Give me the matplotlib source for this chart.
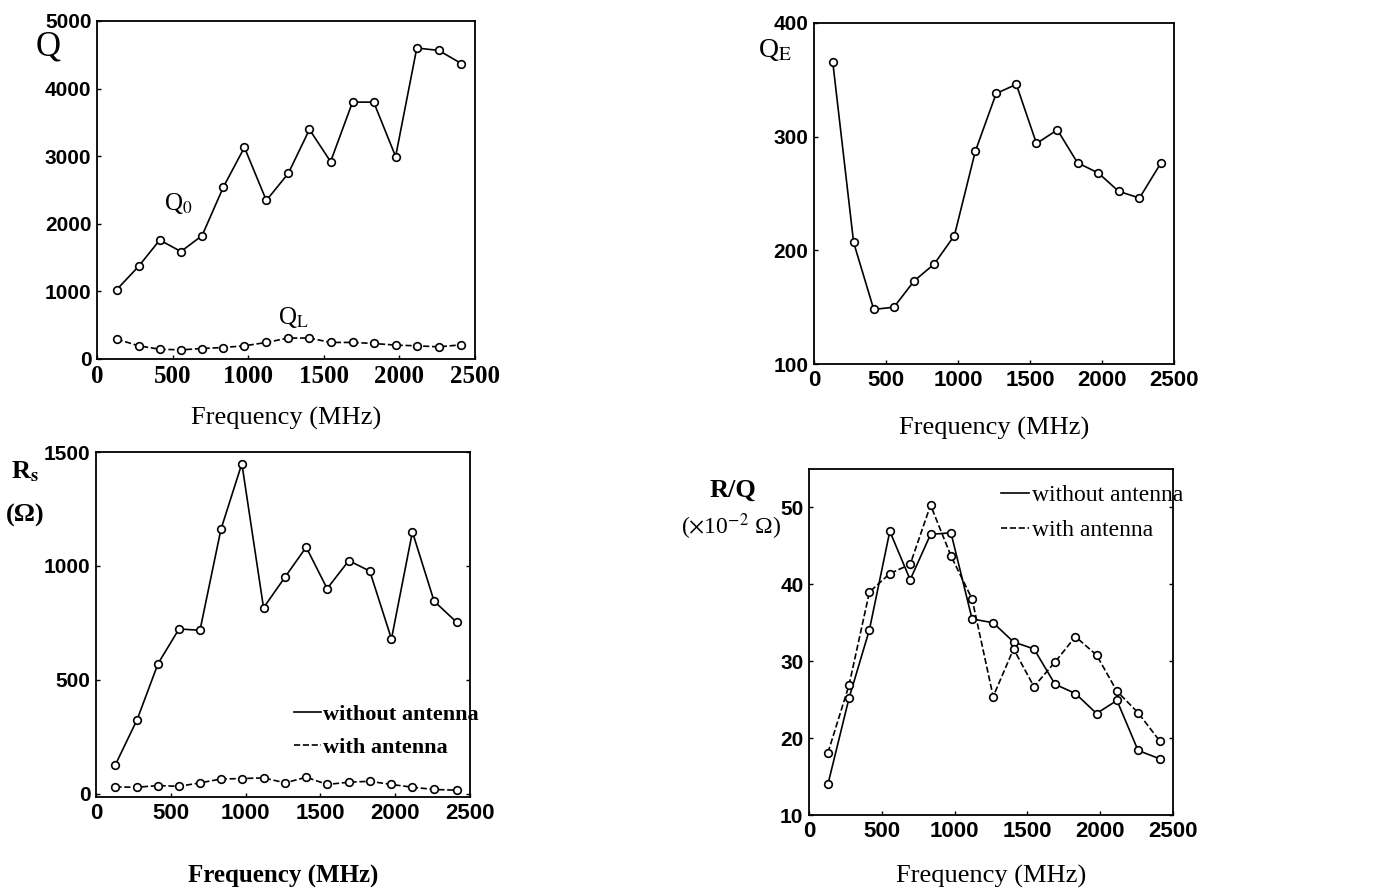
import matplotlib.pyplot as plt

# frequency points (MHz), same set used in all four panels
freq = [130, 275, 415, 555, 695, 835, 975, 1120, 1265, 1405, 1545, 1690, 1830, 1975, 2115, 2260, 2410]
freq_ticks = [0, 500, 1000, 1500, 2000, 2500]

# top left: unloaded and loaded Q
q0 = [1025, 1370, 1760, 1590, 1825, 2540, 3130, 2345, 2745, 3395, 2920, 3800, 3800, 2995, 4600, 4565, 4370]
qL = [295, 195, 145, 135, 155, 170, 195, 245, 310, 310, 245, 245, 230, 205, 195, 180, 210]
q_ticks = [0, 1000, 2000, 3000, 4000, 5000]

# top right: external Q
qE = [366, 207, 148, 150, 173, 188, 213, 287, 338, 346, 294, 306, 277, 268, 252, 246, 277]
qE_ticks = [100, 200, 300, 400]

# bottom left: shunt resistance
rs_without = [127, 325, 571, 723, 717, 1160, 1449, 816, 952, 1082, 900, 1023, 977, 679, 1149, 845, 753]
rs_with = [29, 28, 35, 32, 47, 64, 66, 69, 47, 72, 40, 50, 54, 40, 28, 18, 15]
rs_ticks = [0, 500, 1000, 1500]

# bottom right: R/Q
rq_without = [14.0, 25.2, 34.1, 46.9, 40.6, 46.5, 46.7, 35.5, 35.0, 32.5, 31.6, 27.0, 25.8, 23.2, 24.9, 18.4, 17.3]
rq_with = [18.1, 26.9, 39.0, 41.4, 42.6, 50.3, 43.7, 38.1, 25.4, 31.6, 26.7, 29.9, 33.2, 30.8, 26.1, 23.3, 19.6]
rq_ticks = [10, 20, 30, 40, 50]

legend_labels = ['without antenna', 'with antenna']

plt.rcParams['mathtext.fontset'] = 'stix'
serif = 'Liberation Serif'
sans = 'Liberation Sans'

fig = plt.figure(figsize=(13.75, 8.96), dpi=100)
W, H = 1375.0, 896.0


def make_axes(left, top, right, bottom):
    # pixel box -> figure fractions
    return fig.add_axes([left / W, 1 - bottom / H, (right - left) / W, (bottom - top) / H])


def style(ax, labelpad, xlabel_bold=False, xtick_family=sans, xtick_size=16):
    for s in ax.spines.values():
        s.set_linewidth(1.3)
    ax.set_xlim(0, 2500)
    ax.set_xticks(freq_ticks)
    ax.tick_params(direction='in', length=3, width=1, pad=4)
    for lab in ax.get_xticklabels():
        lab.set_fontfamily(xtick_family)
        lab.set_fontweight('bold')
        lab.set_fontsize(xtick_size)
    for lab in ax.get_yticklabels():
        lab.set_fontfamily(sans)
        lab.set_fontweight('bold')
        lab.set_fontsize(15)
    ax.set_xlabel('Frequency (MHz)', family=serif,
                  fontsize=18 if xlabel_bold else 19,
                  fontweight='bold' if xlabel_bold else 'normal', labelpad=labelpad)


mk = dict(marker='o', ms=5.5, mfc='white', mec='black', mew=1.2, color='black', lw=1.2)

# ---- panel 1
ax1 = make_axes(97, 21, 475, 359)
ax1.plot(freq, q0, '-', **mk)
ax1.plot(freq, qL, '--', **mk)
ax1.set_ylim(0, 5000)
ax1.set_yticks(q_ticks)
style(ax1, 14, xtick_family=serif, xtick_size=18)
ax1.text(540, 2300, r'Q$_{\rm 0}$', family=serif, fontsize=18, ha='center', va='center')
ax1.text(1300, 610, r'Q$_{\rm L}$', family=serif, fontsize=18, ha='center', va='center')
fig.text(48 / W, 1 - 47 / H, 'Q', family=serif, fontsize=25, ha='center', va='center')

# ---- panel 2
ax2 = make_axes(814, 23, 1174, 364)
ax2.plot(freq, qE, '-', **mk)
ax2.set_ylim(100, 400)
ax2.set_yticks(qE_ticks)
style(ax2, 19)
fig.text(775 / W, 1 - 50 / H, r'Q$_{\rm E}$', family=serif, fontsize=20, ha='center', va='center')

# ---- panel 3
ax3 = make_axes(96, 452, 470, 797)
ax3.plot(freq, rs_without, '-', label=legend_labels[0], **mk)
ax3.plot(freq, rs_with, '--', label=legend_labels[1], **mk)
ax3.set_ylim(-15, 1500)
ax3.set_yticks(rs_ticks)
ax3.tick_params(right=True)
style(ax3, 30, xlabel_bold=True)
leg3 = ax3.legend(loc='upper left', bbox_to_anchor=(0.5, 0.30), frameon=False,
                  handlelength=1.2, handletextpad=0.1, labelspacing=0.55, borderpad=0,
                  prop={'family': serif, 'weight': 'bold', 'size': 16})
for h in leg3.legend_handles:
    h.set_marker('')
fig.text(25 / W, 1 - 472 / H, r'R$_{\bf s}$', family=serif, fontweight='bold', fontsize=19,
         ha='center', va='center')
fig.text(25 / W, 1 - 515 / H, '(Ω)', family=serif, fontweight='bold', fontsize=19,
         ha='center', va='center')

# ---- panel 4
ax4 = make_axes(809, 469, 1173, 815)
ax4.plot(freq, rq_without, '-', label=legend_labels[0], **mk)
ax4.plot(freq, rq_with, '--', label=legend_labels[1], **mk)
ax4.set_ylim(10, 55)
ax4.set_yticks(rq_ticks)
ax4.tick_params(right=True)
style(ax4, 17)
leg4 = ax4.legend(loc='upper left', bbox_to_anchor=(0.495, 0.99), frameon=False,
                  handlelength=1.2, handletextpad=0.1, labelspacing=0.6, borderpad=0,
                  prop={'family': serif, 'size': 17})
for h in leg4.legend_handles:
    h.set_marker('')
fig.text(733 / W, 1 - 490 / H, 'R/Q', family=serif, fontweight='bold', fontsize=19,
         ha='center', va='center')
fig.text(731 / W, 1 - 527 / H, r'($\times$10$^{-2}$ Ω)', family=serif, fontsize=17,
         ha='center', va='center')

fig.savefig('out.png', dpi=100)
